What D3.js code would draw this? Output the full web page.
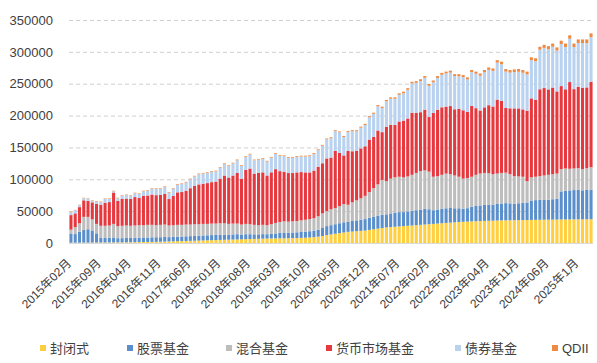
<!DOCTYPE html>
<html>
<head>
<meta charset="utf-8">
<script src="https://cdn.jsdelivr.net/npm/d3@7"></script>
<style>
  body { margin: 0; background: #fff; }
  text { font-family: "Liberation Sans", Arial, "Noto Sans CJK SC", sans-serif; }
</style>
</head>
<body>
<svg id="chart" width="597" height="363"></svg>
<script>
// monthly values, 2015-02 .. 2025-04
const closedFund = [500,500,500,600,600,700,700,800,800,900,
  900,1000,1000,1100,1200,1300,1400,1500,1600,1700,
  1800,2000,2200,2400,2600,2800,3000,3200,3400,3600,
  3800,4000,4200,4400,4600,4800,5000,5200,5400,5600,
  5800,6000,6200,6400,6600,6800,7000,7100,7200,7300,
  7400,7500,7600,7800,8000,8300,8700,9200,10000,11000,
  12500,13500,14500,15500,16500,17500,18000,18500,19000,19500,
  20500,21500,22500,23500,24500,25000,25500,26000,26500,27000,
  27500,28000,28500,29000,29500,30000,30500,31000,31500,32000,
  32500,33000,33300,33600,33900,34200,34500,34700,34900,35100,
  35300,35500,35600,35700,35800,35900,36000,36100,36200,36300,
  36400,36500,36600,36700,36800,36900,37000,37000,37100,37100,
  37200,37200,37300];

const stockFund = [14500,13500,17000,20000,21000,19000,14500,7000,7200,7500,
  7800,6500,6600,6800,6700,6900,7000,7100,7000,7200,
  7300,7100,7300,6800,7000,7100,7200,7300,7400,7500,
  7600,7700,7900,8000,8100,8200,8300,8000,8100,8200,
  7500,7800,7600,7200,7000,7100,6800,7200,7800,8500,
  9000,8800,8900,9000,9300,9600,9800,10200,11000,12500,
  14000,14500,15000,15500,16000,15500,16500,17000,17500,18000,
  19000,19500,20500,21000,20500,21500,22000,22500,22000,22500,
  23000,23500,24000,24500,23500,21500,22000,22500,23000,23000,
  22000,21500,20500,21000,23000,24000,24500,25000,25500,25000,
  26000,26500,27000,26500,26000,26500,27000,27500,30500,31000,
  31500,31000,31500,32000,32500,44000,45000,45500,46000,46500,
  45500,46000,46500];

const hybridFund = [6000,11000,13500,20400,19400,17300,14800,19200,19000,19100,
  21300,19000,19400,19600,19100,19300,19600,19400,19900,19600,
  18900,19400,19500,18300,18400,18600,18300,18500,18200,18400,
  18100,18300,17900,18100,17800,18000,17700,16800,17000,16700,
  15700,16200,15700,14900,14400,14600,14200,15200,16500,17200,
  17600,17200,17500,17700,18200,18600,19000,19600,21000,23000,
  23500,25000,25500,27000,28500,27000,29500,31500,33500,36500,
  40500,45000,49000,54500,52000,54500,55500,55500,54500,55000,
  56500,58500,60500,60500,59000,52500,52500,53500,54500,53000,
  51500,49500,47200,47400,47100,48800,50000,50300,49100,47900,
  47700,48000,47900,45800,43200,42100,41000,33400,36300,36700,
  37100,38500,38900,39300,39700,35100,35000,34000,33900,33900,
  33300,34300,35200];

const moneyFund = [22800,21500,25300,26000,25000,26800,31400,33000,36200,36700,
  49200,39700,42200,42200,42100,44600,42600,46100,46100,47600,
  47100,47100,48000,41500,46000,51000,51500,53000,57000,60000,
  62500,63000,64000,65000,66000,70000,74900,72900,75400,79400,
  71900,84900,87400,80400,81900,82400,77900,81400,84400,79800,
  77800,76300,75800,76300,75800,74300,73300,74700,77700,78700,
  82700,81100,89600,83600,76500,84500,80000,77400,78500,77800,
  82300,80700,84600,75000,85500,84500,82400,86700,89100,91000,
  97500,94400,92300,95300,85700,100200,104100,106000,105000,106900,
  103900,106800,107300,103700,111200,104600,99000,102900,106800,106200,
  116100,113000,101500,103400,106300,106800,105700,110600,124000,120900,
  136300,137200,134100,136000,128900,130300,124200,136100,124500,127900,
  127800,126700,134100];

const bondFund = [4500,4800,3000,3200,3300,2500,3800,4200,6000,5000,
  2000,4000,5000,5500,5000,6000,6500,7000,7500,9000,
  10000,9500,11000,10000,11000,12000,12500,13000,14000,15000,
  16000,16000,16000,16500,16000,17000,18000,18000,19000,20000,
  20000,20000,22000,21000,21000,21000,22000,23000,24000,24000,
  24500,24000,24000,24500,24500,25000,25500,26000,26000,27500,
  30000,30500,31000,32000,29000,30000,31500,31000,32500,33500,
  35000,36000,38000,38000,40000,41000,41000,42000,43000,45000,
  46000,47000,49000,50000,49000,48000,50000,51000,52000,52500,
  52000,51000,52000,51000,53000,54000,54500,55000,55500,56000,
  58000,57500,57000,56000,57000,57500,57500,57000,60000,60500,
  62000,63000,63000,64000,64000,66000,66500,68000,66000,68500,
  70000,69500,70000];

const qdiiFund = [700,700,700,750,750,750,800,800,800,800,
  800,800,850,850,850,850,900,900,900,900,
  900,900,950,950,950,950,1000,1000,1000,1000,
  1000,1000,1000,1050,1050,1050,1100,1100,1100,1100,
  1100,1100,1100,1100,1100,1150,1150,1150,1150,1200,
  1200,1200,1200,1200,1250,1250,1250,1300,1300,1300,
  1350,1400,1400,1450,1500,1500,1550,1600,1650,1700,
  1750,1800,1900,2000,2000,2100,2200,2300,2400,2500,
  2500,2600,2700,2700,2800,2800,2900,3000,3000,3100,
  3100,3200,3200,3300,3300,3400,3500,3600,3700,3800,
  3900,4000,4000,4100,4200,4200,4300,4400,4500,4600,
  4700,4800,4900,5000,5100,5200,5300,5400,5500,5600,
  5700,5800,5900];

const seriesNames = ["封闭式", "股票基金", "混合基金", "货币市场基金", "债券基金", "QDII"];
const seriesColors = ["#ffcf3f", "#5a8fcc", "#bdbdbd", "#e6393f", "#b9d2ef", "#ef8a43"];
const tickLabels = ["2015年02月","2015年09月","2016年04月","2016年11月","2017年06月","2018年01月",
  "2018年08月","2019年03月","2019年10月","2020年05月","2020年12月","2021年07月","2022年02月",
  "2022年09月","2023年04月","2023年11月","2024年06月","2025年1月"];
const yTicks = [0, 50000, 100000, 150000, 200000, 250000, 300000, 350000];

(function() {
  const svg = d3.select("#chart");
  const left = 69, right = 593, top = 20, bottom = 243;

  // month categories
  const months = closedFund.map((v, i) => {
    const m = 1 + i; // months after 2015-01
    const yr = 2015 + Math.floor(m / 12), mo = m % 12 + 1;
    return yr + "-" + (mo < 10 ? "0" + mo : mo);
  });

  const allSeries = [closedFund, stockFund, hybridFund, moneyFund, bondFund, qdiiFund];
  const rows = months.map((m, i) => {
    const r = {month: m};
    seriesNames.forEach((k, j) => { r[k] = allSeries[j][i]; });
    return r;
  });

  const x = d3.scaleBand().domain(months).range([left, right]).paddingInner(0.28).paddingOuter(0.1);
  const y = d3.scaleLinear().domain([0, 350000]).range([bottom, top]);

  // gridlines + y labels
  const yAxis = svg.append("g")
    .attr("transform", "translate(" + left + ",0)")
    .call(d3.axisLeft(y).tickValues(yTicks).tickSize(-(right - left)).tickPadding(16).tickFormat(d3.format("d")));
  yAxis.select(".domain").remove();
  yAxis.selectAll(".tick line")
    .attr("stroke", "#d0d0d0")
    .attr("stroke-dasharray", "4,3");
  yAxis.selectAll(".tick").filter(d => d === 0).select("line").remove();
  yAxis.selectAll("text")
    .attr("fill", "#404040")
    .style("font-size", "13px");

  // stacked bars
  const stacked = d3.stack().keys(seriesNames)(rows);
  svg.append("g").selectAll("g")
    .data(stacked)
    .join("g")
      .attr("fill", (d, i) => seriesColors[i])
    .selectAll("rect")
    .data(d => d)
    .join("rect")
      .attr("x", d => x(d.data.month))
      .attr("width", x.bandwidth())
      .attr("y", d => y(d[1]))
      .attr("height", d => y(d[0]) - y(d[1]));

  // baseline
  svg.append("line")
    .attr("x1", left).attr("x2", right)
    .attr("y1", bottom + 0.5).attr("y2", bottom + 0.5)
    .attr("stroke", "#d9d9d9");

  // x labels, every 7th month
  const tickMonths = tickLabels.map((t, i) => months[i * 7]);
  svg.append("g").selectAll("text")
    .data(tickMonths)
    .join("text")
      .attr("transform", d => "translate(" + (x(d) + x.bandwidth() / 2 + 1) + ",264) rotate(-45)")
      .attr("text-anchor", "end")
      .attr("fill", "#404040")
      .style("font-size", "12px")
      .text((d, i) => tickLabels[i]);

  // legend
  const legendX = [40, 127, 226, 326, 455, 552];
  const legend = svg.append("g").selectAll("g")
    .data(seriesNames)
    .join("g")
      .attr("transform", (d, i) => "translate(" + legendX[i] + ",348)");
  legend.append("rect")
    .attr("x", 0).attr("y", -3).attr("width", 6).attr("height", 6)
    .attr("fill", (d, i) => seriesColors[i]);
  legend.append("text")
    .attr("x", 10).attr("y", 5)
    .attr("fill", "#404040")
    .style("font-size", "13px")
    .text(d => d);
})();
</script>
</body>
</html>
